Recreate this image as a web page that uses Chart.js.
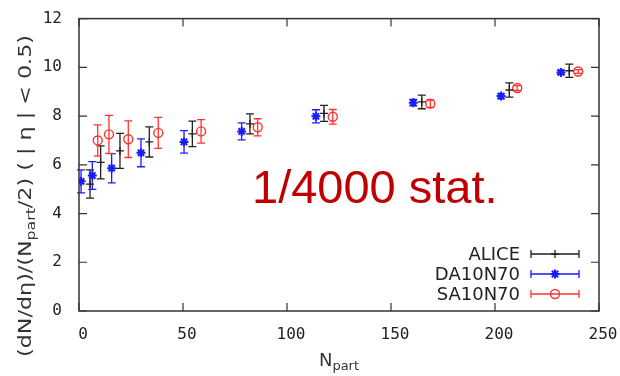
<!DOCTYPE html>
<html>
<head>
<meta charset="utf-8">
<script src="https://cdn.jsdelivr.net/npm/chart.js@4.4.0/dist/chart.umd.min.js"></script>
<style>
  body { margin: 0; background: #fff; }
  #plot { display: block; }
</style>
</head>
<body>
<canvas id="plot" width="620" height="376"></canvas>
<script>
// Charged-particle density per participant pair vs N_part
const nAlice = [5.3, 10.4, 19.7, 33.8, 54.5, 82.2, 117.8, 164.8, 206.9, 235.7];
const yAlice = [5.21, 6.10, 6.57, 6.94, 7.27, 7.68, 8.11, 8.58, 9.07, 9.86];
const eAlice = [0.58, 0.68, 0.72, 0.62, 0.52, 0.41, 0.33, 0.28, 0.29, 0.27];

const nDA = [1.0, 6.4, 15.7, 29.8, 50.5, 78.2, 113.9, 160.7, 202.9, 231.7];
const yDA = [5.32, 5.56, 5.86, 6.49, 6.94, 7.37, 7.99, 8.55, 8.82, 9.79];
const eDA = [0.47, 0.57, 0.60, 0.57, 0.46, 0.35, 0.27, 0.13, 0.10, 0.08];

const nSA = [9.0, 14.4, 23.7, 38.1, 58.7, 85.9, 122.0, 168.9, 210.7, 240.0];
const ySA = [7.00, 7.25, 7.05, 7.31, 7.37, 7.54, 7.97, 8.51, 9.15, 9.83];
const eSA = [0.64, 0.78, 0.75, 0.64, 0.48, 0.35, 0.30, 0.15, 0.10, 0.08];

const xTicks = [0, 50, 100, 150, 200, 250];
const yTicks = [0, 2, 4, 6, 8, 10, 12];

const series = [
    { label: 'ALICE',   x: nAlice, y: yAlice, err: eAlice, color: '#222222', style: 'cross',  radius: 4,   width: 1.3 },
    { label: 'DA10N70', x: nDA,    y: yDA,    err: eDA,    color: '#1a1aff', style: 'star',   radius: 4.5, width: 2 },
    { label: 'SA10N70', x: nSA,    y: ySA,    err: eSA,    color: '#ff3333', style: 'circle', radius: 4.5, width: 1.4 }
];

const AXIS_COLOR = '#333333';
const TICK_LEN = 8;

function pts(s) {
    return s.x.map((v, i) => ({ x: v, y: s.y[i], err: s.err[i] }));
}

function drawMarker(ctx, s, x, y) {
    ctx.save();
    ctx.strokeStyle = s.color;
    ctx.lineWidth = s.width;
    const r = s.radius;
    ctx.beginPath();
    if (s.style === 'circle') {
        ctx.arc(x, y, r, 0, Math.PI * 2);
    } else {
        ctx.moveTo(x - r, y); ctx.lineTo(x + r, y);
        ctx.moveTo(x, y - r); ctx.lineTo(x, y + r);
        if (s.style === 'star') {
            const d = r * 0.707;
            ctx.moveTo(x - d, y - d); ctx.lineTo(x + d, y + d);
            ctx.moveTo(x - d, y + d); ctx.lineTo(x + d, y - d);
        }
    }
    ctx.stroke();
    ctx.restore();
}

// vertical error bars with caps, drawn under the markers
const errorBars = {
    id: 'errorBars',
    beforeDatasetsDraw(chart) {
        const ctx = chart.ctx;
        const ys = chart.scales.y;
        chart.data.datasets.forEach((ds, di) => {
            const meta = chart.getDatasetMeta(di);
            ctx.save();
            ctx.strokeStyle = ds.borderColor;
            ctx.lineWidth = 1.3;
            meta.data.forEach((el, i) => {
                const p = ds.data[i];
                const top = ys.getPixelForValue(p.y + p.err);
                const bot = ys.getPixelForValue(p.y - p.err);
                ctx.beginPath();
                ctx.moveTo(el.x, top); ctx.lineTo(el.x, bot);
                ctx.moveTo(el.x - 4, top); ctx.lineTo(el.x + 4, top);
                ctx.moveTo(el.x - 4, bot); ctx.lineTo(el.x + 4, bot);
                ctx.stroke();
            });
            ctx.restore();
        });
    }
};

// frame, inward ticks, axis titles, key and note
const decorations = {
    id: 'decorations',
    afterDraw(chart) {
        const ctx = chart.ctx;
        const a = chart.chartArea;
        const xs = chart.scales.x, ys = chart.scales.y;

        ctx.save();
        ctx.strokeStyle = AXIS_COLOR;
        ctx.lineWidth = 1.5;
        ctx.strokeRect(a.left, a.top, a.right - a.left, a.bottom - a.top);
        ctx.lineWidth = 1.2;
        ctx.beginPath();
        xTicks.forEach(v => {
            const px = xs.getPixelForValue(v);
            ctx.moveTo(px, a.bottom); ctx.lineTo(px, a.bottom - TICK_LEN);
            ctx.moveTo(px, a.top); ctx.lineTo(px, a.top + TICK_LEN);
        });
        yTicks.forEach(v => {
            const py = ys.getPixelForValue(v);
            ctx.moveTo(a.left, py); ctx.lineTo(a.left + TICK_LEN, py);
            ctx.moveTo(a.right, py); ctx.lineTo(a.right - TICK_LEN, py);
        });
        ctx.stroke();

        // x title: N_part
        ctx.fillStyle = '#333';
        ctx.textBaseline = 'alphabetic';
        const cx = (a.left + a.right) / 2;
        ctx.font = '18px "DejaVu Sans"';
        const wN = ctx.measureText('N').width;
        ctx.font = '13px "DejaVu Sans"';
        const wSub = ctx.measureText('part').width;
        let x0 = cx - (wN + wSub) / 2;
        ctx.font = '18px "DejaVu Sans"';
        ctx.textAlign = 'left';
        ctx.fillText('N', x0, 366);
        ctx.font = '13px "DejaVu Sans"';
        ctx.fillText('part', x0 + wN, 370);

        // y title, rotated and drawn a little stretched along its length
        const parts = [
            { t: '(dN/dη)/(N', sub: false },
            { t: 'part', sub: true },
            { t: '/2) ( | η | < 0.5)', sub: false }
        ];
        const big = '17px "DejaVu Sans"', small = '12px "DejaVu Sans"';
        let total = 0;
        parts.forEach(p => { ctx.font = p.sub ? small : big; p.w = ctx.measureText(p.t).width; total += p.w; });
        const stretch = 322 / total;
        ctx.translate(31, 196);
        ctx.rotate(-Math.PI / 2);
        ctx.scale(stretch, 1);
        let tx = -total / 2;
        parts.forEach(p => {
            ctx.font = p.sub ? small : big;
            ctx.fillText(p.t, tx, p.sub ? 4 : 0);
            tx += p.w;
        });
        ctx.restore();

        // key
        ctx.save();
        ctx.font = '18px "DejaVu Sans"';
        ctx.textAlign = 'right';
        ctx.textBaseline = 'middle';
        series.forEach((s, i) => {
            const y = 254 + 20 * i;
            ctx.fillStyle = '#222';
            ctx.fillText(s.label, 520, y + 1);
            ctx.strokeStyle = s.color;
            ctx.lineWidth = 1.3;
            ctx.beginPath();
            ctx.moveTo(531, y); ctx.lineTo(579, y);
            ctx.moveTo(531, y - 4); ctx.lineTo(531, y + 4);
            ctx.moveTo(579, y - 4); ctx.lineTo(579, y + 4);
            ctx.stroke();
            drawMarker(ctx, s, 555, y);
        });
        ctx.restore();

        // statistics note
        ctx.save();
        ctx.font = '47px "Liberation Sans"';
        ctx.fillStyle = '#c00000';
        ctx.textAlign = 'left';
        ctx.textBaseline = 'alphabetic';
        ctx.fillText('1/4000 stat.', 252, 203);
        ctx.restore();
    }
};

new Chart(document.getElementById('plot'), {
    type: 'scatter',
    data: {
        datasets: series.map(s => ({
            label: s.label,
            data: pts(s),
            borderColor: s.color,
            backgroundColor: 'rgba(0,0,0,0)',
            pointStyle: s.style === 'circle' ? 'circle' : (s.style === 'star' ? 'star' : 'cross'),
            pointRadius: s.radius,
            pointBorderWidth: s.width,
            pointHoverRadius: s.radius
        }))
    },
    options: {
        responsive: false,
        animation: false,
        events: [],
        layout: { padding: { top: 15, right: 21, left: 0, bottom: 0 } },
        plugins: { legend: { display: false }, tooltip: { enabled: false } },
        scales: {
            x: {
                type: 'linear',
                min: 0, max: 250,
                afterBuildTicks: sc => { sc.ticks = xTicks.map(v => ({ value: v })); },
                afterFit: sc => { sc.height = 65; },
                grid: { display: false },
                border: { display: false },
                ticks: { color: '#222', font: { family: 'DejaVu Sans Mono', size: 16 }, padding: 6, maxRotation: 0, labelOffset: 4 }
            },
            y: {
                type: 'linear',
                min: 0, max: 12,
                afterBuildTicks: sc => { sc.ticks = yTicks.map(v => ({ value: v })); },
                afterFit: sc => { sc.width = 79; },
                grid: { display: false },
                border: { display: false },
                ticks: { color: '#222', font: { family: 'DejaVu Sans Mono', size: 16 }, padding: 9 }
            }
        }
    },
    plugins: [errorBars, decorations]
});
</script>
</body>
</html>
